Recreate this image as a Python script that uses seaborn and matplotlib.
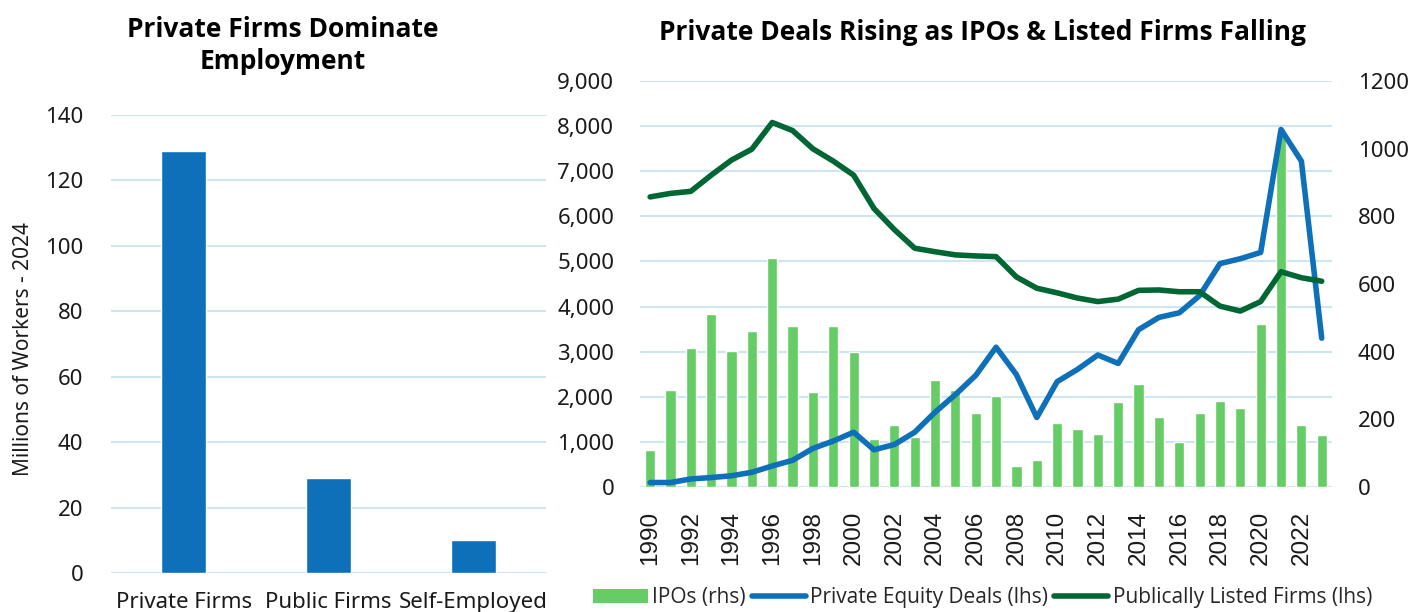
import numpy as np
import pandas as pd
import matplotlib
matplotlib.use("Agg")
import matplotlib.pyplot as plt
import matplotlib.ticker as mticker
from matplotlib.patches import Patch
from matplotlib.lines import Line2D
import seaborn as sns

# employment by firm type (millions of workers, 2024)
emp_categories = ["Private Firms", "Public Firms", "Self-Employed"]
emp_values = [129, 29, 10]

# annual series 1990-2023
years = list(range(1990, 2024))
ipos = [110, 286, 412, 512, 402, 462, 678, 475, 280, 477, 398, 141, 183, 147,
        315, 286, 220, 269, 62, 80, 190, 171, 157, 252, 304, 207, 134, 218,
        255, 233, 481, 1040, 182, 154]
pe_deals = [100, 100, 179, 210, 250, 327, 467, 592, 856, 1020, 1215, 825, 942,
            1215, 1658, 2048, 2476, 3099, 2491, 1541, 2336, 2608, 2927, 2740,
            3488, 3760, 3862, 4243, 4952, 5061, 5201, 7926, 7225, 3300]
listed = [6431, 6509, 6555, 6913, 7248, 7490, 8081, 7902, 7497, 7225, 6913,
          6174, 5707, 5294, 5216, 5146, 5123, 5107, 4656, 4407, 4305, 4189,
          4111, 4165, 4360, 4368, 4329, 4329, 4010, 3901, 4111, 4772, 4640,
          4562]

sns.set_theme(style="white")
plt.rcParams["font.family"] = ["Noto Sans", "DejaVu Sans"]

BLUE = "#0E70B8"
GREEN = "#66CC66"
DKGREEN = "#006633"
GRID = "#CDE6F2"
TXT = "#1a1a1a"
TITLE_FONT = ["Open Sans", "DejaVu Sans"]

fig = plt.figure(figsize=(14.13, 6.12), dpi=100)

# ---- left panel: employment bars
ax1 = fig.add_axes([0.0786, 0.0637, 0.3079, 0.7484])
emp = pd.DataFrame({"cat": emp_categories, "val": emp_values})
sns.barplot(data=emp, x="cat", y="val", color=BLUE, saturation=1, width=0.31,
            ax=ax1, zorder=3)
ax1.set_ylim(0, 140)
ax1.set_yticks(range(0, 141, 20))
ax1.grid(axis="y", color=GRID, linewidth=1.5, zorder=0)
ax1.set_axisbelow(True)
for s in ax1.spines.values():
    s.set_visible(False)
ax1.tick_params(axis="both", length=0, labelsize=16, colors=TXT)
ax1.tick_params(axis="x", pad=14)
ax1.tick_params(axis="y", pad=20)
ax1.set_xlabel("")
ax1.set_ylabel("Millions of Workers - 2024", fontsize=15, color=TXT)
ax1.yaxis.set_label_coords(-0.178, 0.49)
fig.text(0.2, 0.9257, "Private Firms Dominate\nEmployment", ha="center", va="center",
         fontsize=19, fontweight="bold", linespacing=1.2, color="black",
         family=TITLE_FONT)

# ---- right panel: IPOs (rhs bars) with deal/listed lines (lhs)
ts = pd.DataFrame({"year": [str(y) for y in years], "ipos": ipos,
                   "pe": pe_deals, "listed": listed})
axb = fig.add_axes([0.4529, 0.2042, 0.4897, 0.6634])
axl = axb.twinx()

sns.barplot(data=ts, x="year", y="ipos", color=GREEN, saturation=1, width=0.5,
            ax=axb, zorder=3)
axb.set_ylim(0, 1200)
axb.set_yticks(range(0, 1201, 200))
lhs_ticks = list(range(0, 9001, 1000))
for t in lhs_ticks:
    axb.axhline(t * 1200 / 9000, color=GRID, linewidth=1.5, zorder=0)
axb.yaxis.tick_right()
axb.set_xticks(range(0, len(years), 2))
axb.set_xticklabels([str(y) for y in years[::2]], rotation=90,
                    family=["Liberation Sans", "DejaVu Sans"], fontsize=17.5)
axb.set_xlim(-0.5, len(years) - 0.5)

x = np.arange(len(years))
sns.lineplot(x=x, y=ts["pe"], color=BLUE, linewidth=4, ax=axl)
sns.lineplot(x=x, y=ts["listed"], color=DKGREEN, linewidth=4, ax=axl)
axl.set_ylim(0, 9000)
axl.set_yticks(lhs_ticks)
axl.yaxis.set_major_formatter(mticker.FuncFormatter(lambda v, p: f"{int(v):,}"))
axl.yaxis.tick_left()
axl.set_xlim(-0.5, len(years) - 0.5)

for a in (axb, axl):
    for s in a.spines.values():
        s.set_visible(False)
    a.set_xlabel("")
    a.set_ylabel("")
    a.tick_params(axis="both", length=0, labelsize=16, colors=TXT)
axb.tick_params(axis="x", labelsize=17.5, pad=17)
axb.tick_params(axis="y", pad=18.5)
axl.tick_params(axis="y", pad=18.5)

fig.text(0.695, 0.947, "Private Deals Rising as IPOs & Listed Firms Falling",
         ha="center", va="center", fontsize=19, fontweight="bold", color="black",
         family=TITLE_FONT)

handles = [Patch(facecolor=GREEN, edgecolor="none"),
           Line2D([0], [0], color=BLUE, linewidth=4),
           Line2D([0], [0], color=DKGREEN, linewidth=4)]
labels = ["IPOs (rhs)", "Private Equity Deals (lhs)", "Publically Listed Firms (lhs)"]
fig.legend(handles, labels, loc="center", bbox_to_anchor=(0.6955, 0.023), ncol=3,
           frameon=False, handlelength=2.6, handletextpad=0.2, columnspacing=0.3,
           prop={"family": ["Open Sans", "DejaVu Sans"], "size": 15})

fig.savefig("out.png", dpi=100)
